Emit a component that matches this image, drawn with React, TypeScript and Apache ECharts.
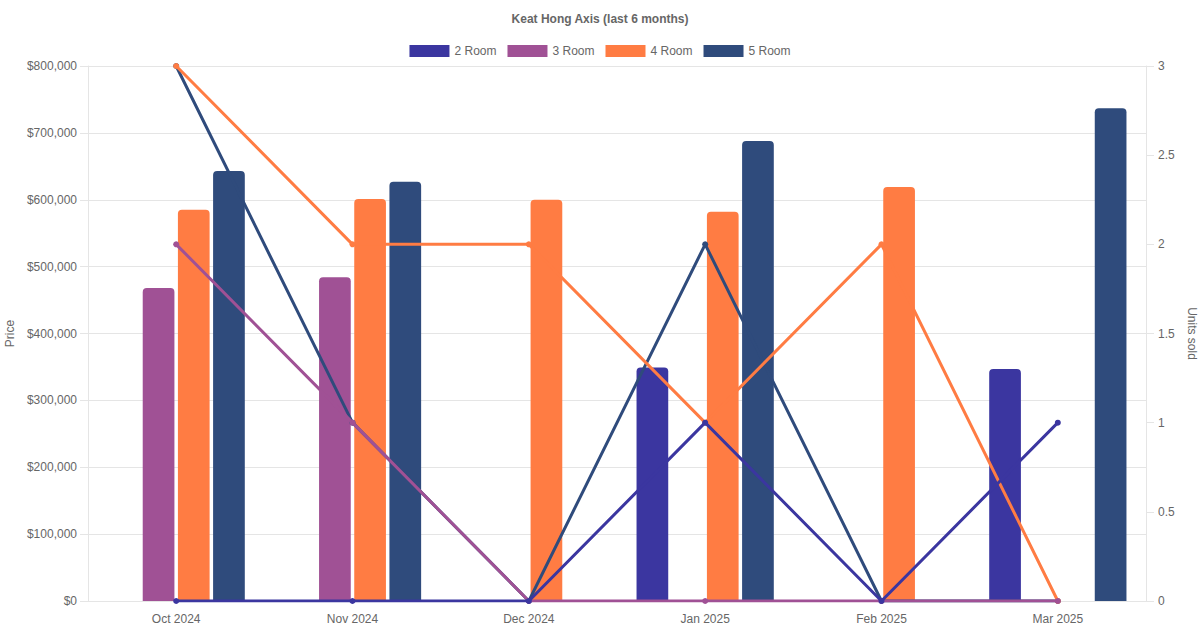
import React, { useEffect, useRef } from "react";
import * as echarts from "echarts";

const months = ["Oct 2024", "Nov 2024", "Dec 2024", "Jan 2025", "Feb 2025", "Mar 2025"];
const roomTypes = ["2 Room", "3 Room", "4 Room", "5 Room"];
const colors = ["#3b36a0", "#a05195", "#ff7c43", "#2f4b7c"];

const price2 = [null, null, null, 349000, null, 347000];
const price3 = [468000, 484000, null, null, null, null];
const price4 = [585000, 601000, 600000, 582000, 619000, null];
const price5 = [643000, 627000, null, 688000, null, 737000];

const units2 = [0, 0, 0, 1, 0, 1];
const units3 = [2, 1, 0, 0, 0, 0];
const units4 = [3, 2, 2, 1, 2, 0];
const units5 = [3, 1, 0, 2, 0, 0];

const priceTicks = { min: 0, max: 800000, interval: 100000 };
const unitTicks = { min: 0, max: 3, interval: 0.5 };

const FONT = "'Liberation Sans', Arial, Helvetica, sans-serif";
const TEXT = "#666666";
const GRID = "#e5e5e5";

export default function App() {
  const ref = useRef<HTMLDivElement>(null);

  useEffect(() => {
    if (!ref.current) return;
    const chart = echarts.init(ref.current, undefined, { renderer: "svg" });
    const prices = [price2, price3, price4, price5];
    const units = [units2, units3, units4, units5];

    const barSeries = roomTypes.map((name, i) => ({
      name,
      type: "bar",
      xAxisIndex: 0,
      yAxisIndex: 0,
      data: prices[i],
      barWidth: 31.7,
      barGap: "11%",
      z: 2,
      itemStyle: { color: colors[i], borderRadius: [4, 4, 0, 0] },
      emphasis: { disabled: true },
    }));

    const lineSeries = roomTypes
      .map((name, i) => ({
        name,
        type: "line",
        xAxisIndex: 0,
        yAxisIndex: 1,
        data: units[i],
        symbol: "circle",
        symbolSize: 6,
        showAllSymbol: true,
        z: 10 - i,
        lineStyle: { color: colors[i], width: 3 },
        itemStyle: { color: colors[i] },
        emphasis: { disabled: true },
      }))
      .reverse();

    chart.setOption({
      animation: false,
      textStyle: { fontFamily: FONT },
      title: {
        text: "Keat Hong Axis (last 6 months)",
        left: "center",
        top: 8,
        textStyle: { fontFamily: FONT, fontSize: 12, fontWeight: "bold", color: TEXT },
      },
      legend: {
        data: roomTypes,
        top: 40,
        left: "center",
        icon: "rect",
        itemWidth: 40,
        itemHeight: 12,
        itemGap: 11,
        textStyle: { fontFamily: FONT, fontSize: 12, color: TEXT },
      },
      grid: {
        left: 88,
        right: 54,
        top: 66,
        bottom: 29,
        containLabel: false,
        outerBoundsMode: "none",
      },
      xAxis: {
        type: "category",
        data: months,
        boundaryGap: true,
        axisLine: { show: true, lineStyle: { color: GRID, width: 1 } },
        axisTick: { show: false },
        splitLine: { show: false },
        axisLabel: { color: TEXT, fontSize: 12, fontFamily: FONT, margin: 12 },
      },
      yAxis: [
        {
          type: "value",
          position: "left",
          ...priceTicks,
          name: "Price",
          nameLocation: "middle",
          nameGap: 72,
          nameRotate: 90,
          nameTextStyle: { color: TEXT, fontSize: 12, fontFamily: FONT },
          axisLine: { show: true, lineStyle: { color: GRID } },
          axisTick: { show: true, length: 8, lineStyle: { color: GRID } },
          splitLine: { show: true, lineStyle: { color: GRID } },
          axisLabel: {
            color: TEXT,
            fontSize: 12,
            fontFamily: FONT,
            margin: 11,
            formatter: (v: number) => "$" + v.toLocaleString("en-US"),
          },
        },
        {
          type: "value",
          position: "right",
          ...unitTicks,
          name: "Units sold",
          nameLocation: "middle",
          nameGap: 37,
          nameRotate: -90,
          nameTextStyle: { color: TEXT, fontSize: 12, fontFamily: FONT },
          axisLine: { show: true, lineStyle: { color: GRID } },
          axisTick: { show: true, length: 8, lineStyle: { color: GRID } },
          splitLine: { show: false },
          axisLabel: { color: TEXT, fontSize: 12, fontFamily: FONT, margin: 12 },
        },
      ],
      series: [...barSeries, ...lineSeries],
    });

    return () => chart.dispose();
  }, []);

  return (
    <div
      ref={ref}
      style={{ position: "fixed", left: 0, top: 0, width: 1200, height: 630, background: "#ffffff" }}
    />
  );
}
